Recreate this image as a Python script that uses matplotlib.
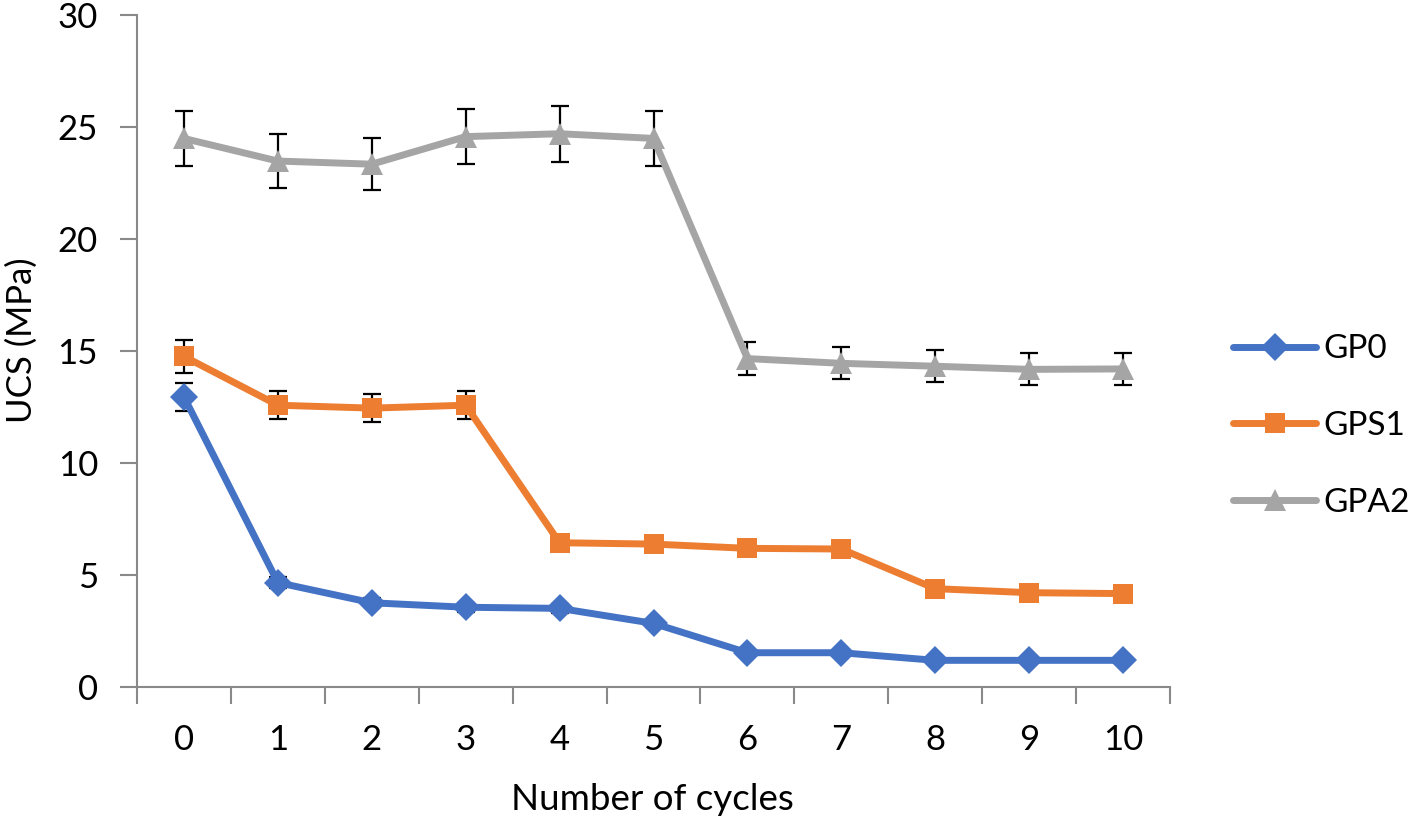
import matplotlib
matplotlib.use("Agg")
import matplotlib.pyplot as plt
import numpy as np

plt.rcParams['font.family'] = ['Lato', 'DejaVu Sans']

cycles = [0, 1, 2, 3, 4, 5, 6, 7, 8, 9, 10]
tick_labels = [str(c) for c in cycles]

gp0 = [12.95, 4.66, 3.76, 3.56, 3.51, 2.84, 1.53, 1.53, 1.19, 1.19, 1.19]
gp0_err = [0.63, 0.25, 0.2, 0.2, 0.2, 0.15, 0.1, 0.1, 0.08, 0.08, 0.08]

gps1 = [14.76, 12.58, 12.45, 12.58, 6.44, 6.38, 6.19, 6.16, 4.39, 4.21, 4.17]
gps1_err = [0.73, 0.62, 0.63, 0.62, 0.3, 0.3, 0.3, 0.3, 0.2, 0.2, 0.2]

gpa2 = [24.49, 23.48, 23.34, 24.57, 24.70, 24.49, 14.66, 14.45, 14.32, 14.18, 14.20]
gpa2_err = [1.23, 1.19, 1.15, 1.22, 1.25, 1.23, 0.74, 0.71, 0.71, 0.71, 0.71]

series = [
    ("GP0", gp0, gp0_err, "#4472C4", "D", 14),
    ("GPS1", gps1, gps1_err, "#ED7D31", "s", 15),
    ("GPA2", gpa2, gpa2_err, "#A5A5A5", "^", 16),
]

FS = 25

fig = plt.figure(figsize=(14.18, 8.27), dpi=100)
ax = fig.add_axes([137/1418, 1 - 687/827, (1170-137)/1418, (687-15)/827])

x = np.arange(len(cycles))
handles = []
for i, (name, vals, err, col, mk, ms) in enumerate(series):
    ax.errorbar(x, vals, yerr=err, fmt='none', ecolor='black', elinewidth=1.6,
                capsize=6.5, capthick=1.6, zorder=2 + i * 2)
    h, = ax.plot(x, vals, color=col, lw=5, marker=mk, markersize=ms,
                 markeredgewidth=0, zorder=3 + i * 2, label=name,
                 solid_capstyle='round')
    handles.append(h)

ax.set_xlim(-0.5, len(cycles) - 0.5)
ax.set_ylim(0, 30)
ax.set_yticks([0, 5, 10, 15, 20, 25, 30])
ax.set_xticks(x)
ax.set_xticklabels(tick_labels)
ax.set_xticks(np.arange(-0.5, len(cycles), 1.0), minor=True)
ax.tick_params(axis='x', which='major', length=0, pad=27, labelsize=FS)
ax.tick_params(axis='x', which='minor', length=12, width=1.5, color='#898989', direction='out')
ax.tick_params(axis='y', which='major', length=12, width=1.5, color='#898989',
               direction='out', labelsize=FS, pad=16)

for s in ['top', 'right']:
    ax.spines[s].set_visible(False)
for s in ['left', 'bottom']:
    ax.spines[s].set_color('#898989')
    ax.spines[s].set_linewidth(1.5)

ax.set_xlabel("Number of cycles", fontsize=26.5)
ax.set_ylabel("UCS (MPa)", fontsize=FS)
ax.xaxis.set_label_coords((652 - 137) / (1170 - 137), -(783 - 687) / (687 - 15))
ax.yaxis.set_label_coords(-(137 - 38) / (1170 - 137), (687 - 340) / (687 - 15))

fig.legend(handles=handles, loc='center left', bbox_to_anchor=(1233/1418, 1 - 426/827),
           frameon=False, fontsize=24, handlelength=2.5, labelspacing=1.4,
           handletextpad=0.2, borderaxespad=0, borderpad=0)

fig.savefig("out.png", dpi=100)
